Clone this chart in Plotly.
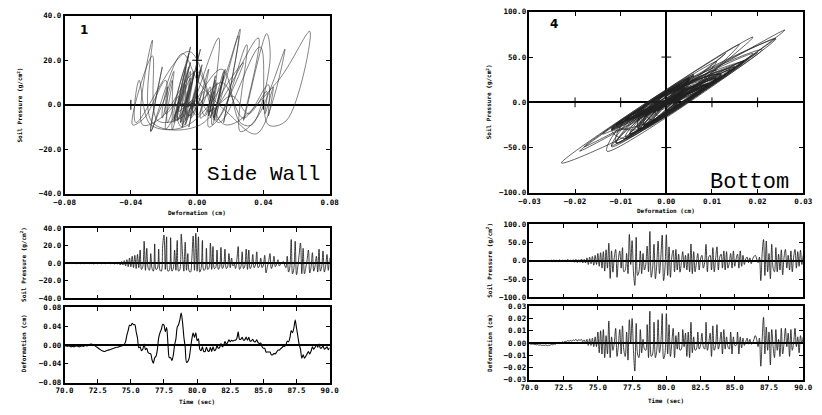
import numpy as np
import plotly.graph_objects as go

# ---- sampling: 70.0 s to 90.0 s every 0.1 s ----
T_START, T_STEP, N_SAMPLES = 70.0, 0.1, 201
time_s = np.round(T_START + T_STEP * np.arange(N_SAMPLES), 1)

# ---- Gauge 1: side wall, soil pressure (g/cm^2) ----
side_pressure = [
    0, 0.5, -0.5, 0.5, 0, -0.5, 0.5, 0, 0.5, -0.5,
    0, 0.5, -0.5, 0, 0.5, -0.5, 0, 0.5, 0, -0.5,
    0, 1, -1, 0.5, 0, -0.5, 0.5, 0, -0.5, 0.5,
    0, -0.5, 0.5, 0, 1, -1, 0.5, 0, -1, 1,
    -1, 1.5, -2, 2, -2, 3, -3, 4, -4, 6,
    -4, 8, -5, 9, -6, 10, -5, 15, -7, -4,
    25, -8, 17, -5, -8, 11, -6, -9, 22, -7,
    -6, 16, -8, -9, 20, 32, -7, 30, -9, -8,
    29, -9, -6, 15, -8, 26, -9, -7, 33, 10,
    -9, 24, -8, 11, -9, -10, 5, 31, -8, 34,
    -9, 30, -10, -6, 26, -8, -7, 17, -7, -5,
    23, -7, 19, -6, -5, 15, -7, -4, 18, -6,
    -3, 16, -6, -4, 11, -5, 6, -3, -1, -6,
    4, 19, -7, -4, 13, -6, -3, 16, -7, 15,
    -6, -3, 10, -5, -2, 13, -5, -3, 6, -5,
    -2, 9, -11, -4, 2, 11, -6, -2, 8, -4,
    -1, 4, -3, -1, 0, 2, -2, -5, 8, -10,
    -4, 27, -12, -6, 25, -13, -4, 10, 23, -12,
    17, -12, -5, 4, 15, -11, -4, 12, -9, -3,
    8, -10, 16, -9, -4, 14, -10, -3, 10, -8,
    6,
]

# ---- Gauge 1: side wall, deformation (cm) ----
side_deformation = [
    -0.001, -0.002, -0.003, -0.002, -0.003, -0.004, -0.003, -0.004, -0.003, -0.002,
    -0.003, -0.004, -0.003, -0.002, -0.003, -0.002, -0.001, -0.002, 0.000, 0.001,
    0.002, 0.001, 0.000, -0.002, -0.004, -0.006, -0.008, -0.010, -0.012, -0.013,
    -0.014, -0.013, -0.012, -0.011, -0.010, -0.009, -0.008, -0.007, -0.006, -0.005,
    -0.005, -0.004, -0.003, -0.002, -0.001, 0.001, 0.007, 0.021, 0.031, 0.042,
    0.041, 0.046, 0.043, 0.043, 0.028, 0.015, -0.006, -0.004, -0.012, -0.009,
    0.002, -0.010, -0.007, -0.016, -0.018, -0.019, -0.032, -0.039, -0.027, -0.024,
    -0.010, 0.015, 0.026, 0.033, 0.044, 0.042, 0.028, 0.037, 0.002, -0.027,
    -0.027, -0.033, -0.022, 0.000, 0.013, 0.038, 0.043, 0.054, 0.068, 0.048,
    0.017, -0.005, -0.037, -0.035, -0.028, -0.008, 0.012, 0.025, 0.016, 0.026,
    0.009, 0.013, -0.009, -0.012, -0.004, -0.014, -0.014, -0.005, -0.012, -0.014,
    -0.005, -0.014, -0.004, -0.012, -0.010, -0.002, -0.007, -0.005, 0.003, -0.004,
    -0.001, 0.007, 0.002, 0.005, 0.011, 0.007, 0.010, 0.008, 0.010, 0.010,
    0.014, 0.028, 0.012, 0.012, 0.016, 0.010, 0.011, 0.017, 0.010, 0.016,
    0.008, 0.009, 0.012, 0.007, 0.007, 0.011, 0.005, 0.003, 0.004, -0.004,
    -0.007, -0.007, -0.015, -0.015, -0.015, -0.015, -0.021, -0.021, -0.018, -0.019,
    -0.015, -0.011, -0.011, -0.008, -0.006, -0.003, -0.003, 0.000, 0.008, 0.007,
    0.015, 0.030, 0.026, 0.036, 0.053, 0.036, 0.019, 0.001, -0.009, -0.028,
    -0.021, -0.028, -0.024, -0.019, -0.014, -0.019, -0.013, -0.004, -0.009, -0.005,
    0.000, -0.005, 0.002, -0.007, -0.006, -0.002, -0.009, -0.007, -0.004, -0.010,
    -0.006,
]

# ---- Gauge 4: bottom slab, soil pressure (g/cm^2) ----
bottom_pressure = [
    0, 1, -1, 0, 1, -1, 0, 1, -1, 0,
    1, -1, 2, -2, 1, -1, 2, -2, 3, -3,
    2, -2, 3, -3, 2, -2, 3, -2, 4, -3,
    2, -3, 3, -4, 4, -5, 3, -4, 5, -6,
    4, -6, 8, -10, 10, -8, 12, -12, 15, -10,
    20, -15, 22, -20, 25, -28, 30, -20, 48, -48,
    27, -31, 10, 31, -45, 5, 27, -20, 36, -30,
    -25, 20, -35, 72, -10, 55, -30, -67, 64, -40,
    -30, 27, -35, 20, -25, -10, 40, -30, 80, -45,
    -20, 45, -49, -10, 54, -35, 10, 70, -54, -20,
    71, -40, 38, -45, 10, 29, -30, 31, -25, 18,
    -31, -5, 25, -20, 15, -25, 20, -30, 46, -35,
    25, -30, -5, 20, -25, 5, 15, -20, -5, 45,
    -30, 10, 15, -25, 36, -30, 5, 38, -25, 10,
    18, -20, 27, -25, 25, -20, -5, 20, -20, 27,
    -15, 5, 18, -20, 27, -15, 15, -10, 5, 10,
    -5, 8, -8, 4, 12, 15, 5, -5, 10, -54,
    20, 58, -40, 54, -30, 20, -49, 45, -20, -30,
    36, -30, 18, -25, 30, -38, 10, 31, -20, 15,
    -25, 27, -30, 10, 31, -20, 25, -15, 29, -10,
    15,
]

# ---- Gauge 4: bottom slab, deformation (cm) ----
bottom_deformation = [
    -0.0005, -0.001, -0.0008, -0.001, -0.0012, -0.0015, -0.0012, -0.0018, -0.0015, -0.002,
    -0.0018, -0.002, -0.0015, -0.0022, -0.0018, -0.002, -0.0012, -0.0015, -0.0008, -0.001,
    0.0, -0.0005, 0.0005, 0.0, 0.001, 0.0005, 0.0015, 0.001, 0.002, 0.0015,
    0.002, 0.0015, 0.0025, 0.002, 0.003, 0.0015, 0.0028, 0.002, 0.003, 0.001,
    0.0025, 0.0, 0.003, -0.002, 0.0035, -0.002, 0.004, -0.003, 0.005, -0.003,
    0.009, -0.008, 0.010, -0.009, 0.011, -0.012, 0.006, -0.009, 0.018, -0.012,
    0.005, -0.006, 0.000, 0.012, -0.011, -0.002, 0.011, -0.009, 0.014, -0.006,
    -0.011, 0.009, -0.014, 0.019, 0.000, 0.020, -0.006, -0.023, 0.016, -0.009,
    -0.012, 0.011, -0.008, 0.003, -0.005, -0.006, 0.015, -0.012, 0.026, -0.011,
    -0.009, 0.017, -0.012, -0.006, 0.019, -0.008, 0.000, 0.024, -0.013, -0.009,
    0.024, -0.009, 0.015, -0.011, 0.000, 0.012, -0.012, 0.006, -0.005, 0.009,
    -0.006, -0.005, 0.011, -0.003, 0.008, -0.011, 0.009, -0.012, 0.017, -0.008,
    0.005, -0.006, -0.005, 0.009, -0.005, -0.002, 0.008, -0.003, -0.005, 0.017,
    -0.006, 0.000, 0.008, -0.011, 0.014, -0.006, -0.002, 0.015, -0.005, 0.000,
    0.009, -0.009, 0.011, -0.005, 0.005, -0.003, -0.005, 0.009, -0.009, 0.005,
    -0.002, -0.002, 0.009, -0.009, 0.005, -0.004, 0.004, -0.002, 0.001, 0.004,
    -0.001, 0.003, -0.001, 0.000, 0.003, 0.006, 0.003, -0.003, 0.004, -0.019,
    0.003, 0.021, -0.009, 0.013, -0.006, 0.009, -0.018, 0.011, -0.003, -0.012,
    0.011, -0.006, 0.003, -0.011, 0.012, -0.009, 0.000, 0.012, -0.003, 0.008,
    -0.011, 0.011, -0.006, 0.000, 0.012, -0.003, 0.005, -0.008, 0.006, 0.000,
    0.005,
]

# ---- tick values ----
time_ticks = [70.0, 72.5, 75.0, 77.5, 80.0, 82.5, 85.0, 87.5, 90.0]
side_p_ticks = [-40.0, -20.0, 0.0, 20.0, 40.0]
side_d_ticks = [-0.08, -0.04, 0.00, 0.04, 0.08]
bottom_p_ticks = [-100.0, -50.0, 0.0, 50.0, 100.0]
bottom_d_ticks = [-0.03, -0.02, -0.01, 0.00, 0.01, 0.02, 0.03]

W, H = 822, 415
TICK_FONT = dict(family="DejaVu Sans Mono", size=7.5, color="black", weight="bold")
TITLE_FONT = dict(family="DejaVu Sans Mono", size=6, color="black", weight="bold")


def px_x(x0, x1):
    return [x0 / W, x1 / W]


def px_y(top, bottom):
    return [1 - bottom / H, 1 - top / H]


def axis(domain, rng, ticks, fmt, anchor, labels=True, zeroline=False):
    return dict(
        domain=domain, range=rng, anchor=anchor,
        tickmode="array", tickvals=ticks, tickformat=fmt,
        showticklabels=labels, tickfont=TICK_FONT,
        ticks="inside", ticklen=4, tickwidth=1, tickcolor="black",
        showline=True, linecolor="black", linewidth=1.5, mirror="ticks",
        showgrid=False, zeroline=zeroline, zerolinecolor="black", zerolinewidth=1.5,
    )


fig = go.Figure()

line_loop = dict(color="#333333", width=0.6, shape="spline", smoothing=1.0)
line_ts = dict(color="#111111", width=0.8, shape="spline", smoothing=1.0)

# hysteresis loops
fig.add_trace(go.Scatter(x=side_deformation, y=side_pressure, mode="lines",
                         line=line_loop, xaxis="x", yaxis="y"))
fig.add_trace(go.Scatter(x=bottom_deformation, y=bottom_pressure, mode="lines",
                         line=dict(color="#222222", width=0.7, shape="spline", smoothing=1.0),
                         xaxis="x4", yaxis="y4"))

# time histories
fig.add_trace(go.Scatter(x=time_s, y=side_pressure, mode="lines", line=line_ts,
                         xaxis="x2", yaxis="y2"))
fig.add_trace(go.Scatter(x=time_s, y=side_deformation, mode="lines",
                         line=dict(color="black", width=1.1, shape="spline", smoothing=0.8),
                         xaxis="x3", yaxis="y3"))
fig.add_trace(go.Scatter(x=time_s, y=bottom_pressure, mode="lines", line=line_ts,
                         xaxis="x5", yaxis="y5"))
fig.add_trace(go.Scatter(x=time_s, y=bottom_deformation, mode="lines", line=line_ts,
                         xaxis="x6", yaxis="y6"))

# tick marks along the crossing zero lines of the loop plots
for xs, ys, xa, ya in [(side_d_ticks, side_p_ticks, "x", "y"),
                       (bottom_d_ticks, bottom_p_ticks, "x4", "y4")]:
    inner_x = [v for v in xs[1:-1] if v != 0]
    inner_y = [v for v in ys[1:-1] if v != 0]
    fig.add_trace(go.Scatter(x=inner_x, y=[0] * len(inner_x), mode="markers",
                             marker=dict(symbol="line-ns-open", size=7, color="black",
                                         line=dict(color="black", width=1)),
                             xaxis=xa, yaxis=ya))
    fig.add_trace(go.Scatter(x=[0] * len(inner_y), y=inner_y, mode="markers",
                             marker=dict(symbol="line-ew-open", size=7, color="black",
                                         line=dict(color="black", width=1)),
                             xaxis=xa, yaxis=ya))

LX = px_x(55, 327)
RX = px_x(532, 813)

fig.update_layout(
    width=W, height=H, margin=dict(l=0, r=0, t=0, b=0),
    paper_bgcolor="white", plot_bgcolor="white", showlegend=False,
    xaxis=axis(LX, [-0.08, 0.08], side_d_ticks, ".2f", "y", zeroline=True),
    yaxis=axis(px_y(12, 194), [-40, 40], side_p_ticks, ".1f", "x", zeroline=True),
    xaxis2=axis(LX, [70, 90], time_ticks, ".1f", "y2", labels=False),
    yaxis2=axis(px_y(229, 301), [-40, 40], side_p_ticks, ".1f", "x2", zeroline=True),
    xaxis3=axis(LX, [70, 90], time_ticks, ".1f", "y3"),
    yaxis3=axis(px_y(310, 387), [-0.08, 0.08], side_d_ticks, ".2f", "x3", zeroline=True),
    xaxis4=axis(RX, [-0.03, 0.03], bottom_d_ticks, ".2f", "y4", zeroline=True),
    yaxis4=axis(px_y(8, 193), [-100, 100], bottom_p_ticks, ".1f", "x4", zeroline=True),
    xaxis5=axis(RX, [70, 90], time_ticks, ".1f", "y5", labels=False),
    yaxis5=axis(px_y(225, 300), [-100, 100], bottom_p_ticks, ".1f", "x5", zeroline=True),
    xaxis6=axis(RX, [70, 90], time_ticks, ".1f", "y6"),
    yaxis6=axis(px_y(309, 384), [-0.03, 0.03], bottom_d_ticks, ".2f", "x6", zeroline=True),
)


def note(text, x, y, font, angle=0):
    fig.add_annotation(text=text, x=x / W, y=1 - y / H, xref="paper", yref="paper",
                       showarrow=False, textangle=angle, font=font,
                       xanchor="center", yanchor="middle")


# axis titles
note("Soil Pressure (g/cm<sup>2</sup>)", 10, 103, TITLE_FONT, -90)
note("Soil Pressure (g/cm<sup>2</sup>)", 13, 266, TITLE_FONT, -90)
note("Deformation (cm)", 13, 347, TITLE_FONT, -90)
note("Deformation (cm)", 191, 213, TITLE_FONT)
note("Time (sec)", 191, 406, TITLE_FONT)
note("Soil Pressure (g/cm<sup>2</sup>)", 491, 100, TITLE_FONT, -90)
note("Soil Pressure (g/cm<sup>2</sup>)", 491, 262, TITLE_FONT, -90)
note("Deformation (cm)", 491, 346, TITLE_FONT, -90)
note("Deformation (cm)", 672, 211, TITLE_FONT)
note("Time (sec)", 672, 405, TITLE_FONT)

# gauge numbers and location labels
note("1", 75, 27, dict(family="DejaVu Sans", size=12, color="black", weight="bold"))
note("4", 557, 20, dict(family="DejaVu Sans", size=12, color="black", weight="bold"))
note("Side Wall", 259, 174, dict(family="Liberation Mono", size=21, color="black"))
note("Bottom", 758, 182, dict(family="Liberation Mono", size=22, color="black"))

fig.write_html("out.html")
